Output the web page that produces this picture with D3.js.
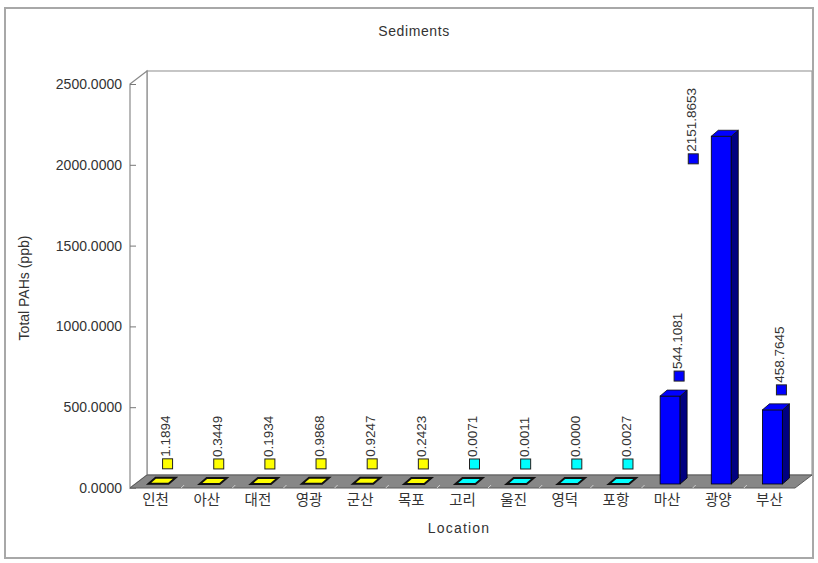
<!DOCTYPE html>
<html>
<head>
<meta charset="utf-8">
<script src="https://cdn.jsdelivr.net/npm/d3@7"></script>
<style>
  html, body { margin: 0; padding: 0; background: #fff; }
  svg { display: block; }
  text { font-family: "Liberation Sans", Arial, sans-serif; fill: #333; }
  .cat text { font-family: "Noto Sans CJK KR", sans-serif; }
</style>
</head>
<body>
<svg id="chart" width="818" height="563"></svg>
<script>
// Total PAHs in sediments by sampling location
const categories = ["인천", "아산", "대전", "영광", "군산", "목포", "고리", "울진", "영덕", "포항", "마산", "광양", "부산"];
const values = [1.1894, 0.3449, 0.1934, 0.9868, 0.9247, 0.2423, 0.0071, 0.0011, 0.0000, 0.0027, 544.1081, 2151.8653, 458.7645];
const regionOf = ["west", "west", "west", "west", "west", "west", "east", "east", "east", "east", "south", "south", "south"];
const regionNames = ["west", "east", "south"];
const regionColors = ["#ffff00", "#00ffff", "#0000ff"];
const regionShades = ["#8a8a00", "#008a8a", "#000080"];
const yTicks = [0, 500, 1000, 1500, 2000, 2500];

const svg = d3.select("#chart");

// plot box: front face and receding depth of the 3D frame
const plotLeft = 130, plotRight = 795, plotTop = 84, plotBottom = 488;
const depthX = 17, depthY = 13;

const x = d3.scaleBand().domain(categories).range([plotLeft, plotRight]).padding(0);
const y = d3.scaleLinear().domain([0, 2500]).range([plotBottom, plotTop]);
const fill = d3.scaleOrdinal().domain(regionNames).range(regionColors);
const shade = d3.scaleOrdinal().domain(regionNames).range(regionShades);

// outer chart frame
svg.append("rect")
  .attr("x", 5).attr("y", 8).attr("width", 808).attr("height", 550)
  .attr("fill", "none").attr("stroke", "#a8a8a8").attr("stroke-width", 2);

// title
svg.append("text")
  .attr("x", 414).attr("y", 36)
  .attr("text-anchor", "middle")
  .style("font-size", "14px").style("letter-spacing", "0.6px")
  .text("Sediments");

// back wall and side wall
svg.append("rect")
  .attr("x", plotLeft + depthX).attr("y", plotTop - depthY)
  .attr("width", plotRight - plotLeft).attr("height", plotBottom - plotTop)
  .attr("fill", "#fff").attr("stroke", "#a0a0a0").attr("stroke-width", 1.2);
svg.append("polygon")
  .attr("points", [[plotLeft, plotTop], [plotLeft + depthX, plotTop - depthY], [plotLeft + depthX, plotBottom - depthY], [plotLeft, plotBottom]].join(" "))
  .attr("fill", "#fff").attr("stroke", "#8a8a8a").attr("stroke-width", 1.2);

// floor
svg.append("polygon")
  .attr("points", [[plotLeft, plotBottom], [plotRight, plotBottom], [plotRight + depthX, plotBottom - depthY], [plotLeft + depthX, plotBottom - depthY]].join(" "))
  .attr("fill", "#878787").attr("stroke", "#5a5a5a").attr("stroke-width", 1);

// category dividers on the floor
svg.append("g").selectAll("line")
  .data(categories.slice(1))
  .join("line")
  .attr("x1", d => x(d)).attr("y1", plotBottom)
  .attr("x2", d => x(d) + 3).attr("y2", plotBottom - 3)
  .attr("stroke", "#d0d0d0").attr("stroke-width", 1);

// y axis
const yAxis = svg.append("g")
  .attr("transform", `translate(${plotLeft},0)`)
  .call(d3.axisLeft(y).tickValues(yTicks).tickFormat(d3.format(".4f"))
    .tickSizeInner(-6).tickSizeOuter(0).tickPadding(8));
yAxis.select(".domain").remove();
yAxis.selectAll("line").attr("stroke", "#777");
yAxis.selectAll("text").style("font-size", "14px").attr("fill", "#333");

// x axis labels
const xAxis = svg.append("g")
  .attr("class", "cat")
  .attr("transform", `translate(0,${plotBottom})`)
  .call(d3.axisBottom(x).tickSize(0).tickPadding(7));
xAxis.select(".domain").remove();
xAxis.selectAll("text").style("font-size", "14.5px").attr("fill", "#444");

// axis titles
svg.append("text")
  .attr("x", 459).attr("y", 533)
  .attr("text-anchor", "middle")
  .style("font-size", "14px").style("letter-spacing", "1.2px")
  .text("Location");
svg.append("text")
  .attr("transform", "translate(29,288) rotate(-90)")
  .attr("text-anchor", "middle")
  .style("font-size", "14px")
  .text("Total PAHs (ppb)");

// 3D columns set in the middle of the floor depth
const barW = 20, barDX = 7, barDY = 6, barShift = 4;
const data = categories.map((c, i) => ({ cat: c, value: values[i], region: regionOf[i] }));

const bars = svg.append("g").selectAll("g")
  .data(data)
  .join("g");

bars.each(function (d) {
  const g = d3.select(this);
  const x0 = x(d.cat) + x.bandwidth() / 2 - 7;
  const base = y(0) - barShift;
  const yt = y(d.value) - barShift;
  const h = base - yt;
  if (h > 0.5) {
    g.append("rect")
      .attr("x", x0).attr("y", yt).attr("width", barW).attr("height", h)
      .attr("fill", fill(d.region)).attr("stroke", "#000").attr("stroke-width", 0.8);
    g.append("polygon")
      .attr("points", [[x0 + barW, yt], [x0 + barW + barDX, yt - barDY], [x0 + barW + barDX, base - barDY], [x0 + barW, base]].join(" "))
      .attr("fill", shade(d.region)).attr("stroke", "#000").attr("stroke-width", 0.8);
  }
  g.append("polygon")
    .attr("points", [[x0, yt], [x0 + barDX, yt - barDY], [x0 + barW + barDX, yt - barDY], [x0 + barW, yt]].join(" "))
    .attr("fill", fill(d.region)).attr("stroke", "#111").attr("stroke-width", h > 0.5 ? 0.8 : 2);
});

// value labels with a colour key, written upward above each column
const fmt = d3.format(".4f");
const labelTop = 87, keySize = 10;
const labels = svg.append("g").selectAll("g")
  .data(data)
  .join("g");

labels.each(function (d) {
  const g = d3.select(this);
  const t = g.append("text")
    .style("font-size", "13.5px")
    .attr("fill", "#333")
    .attr("text-anchor", "start")
    .attr("dy", "0.36em")
    .text(fmt(d.value));
  const len = t.node().getComputedTextLength();
  let my = y(d.value) - 24;
  let mx = x(d.cat) + x.bandwidth() / 2 + 12;
  const needed = labelTop + len + 3 + keySize / 2;
  if (my < needed) {
    // not enough room above the column: drop the label beside it
    my = needed;
    mx = x(d.cat) + x.bandwidth() / 2 - 25;
  }
  g.append("rect")
    .attr("x", mx - keySize / 2).attr("y", my - keySize / 2)
    .attr("width", keySize).attr("height", keySize)
    .attr("fill", fill(d.region)).attr("stroke", "#222").attr("stroke-width", 1);
  t.attr("transform", `translate(${mx - 2},${my - keySize / 2 - 2}) rotate(-90)`);
});
</script>
</body>
</html>
